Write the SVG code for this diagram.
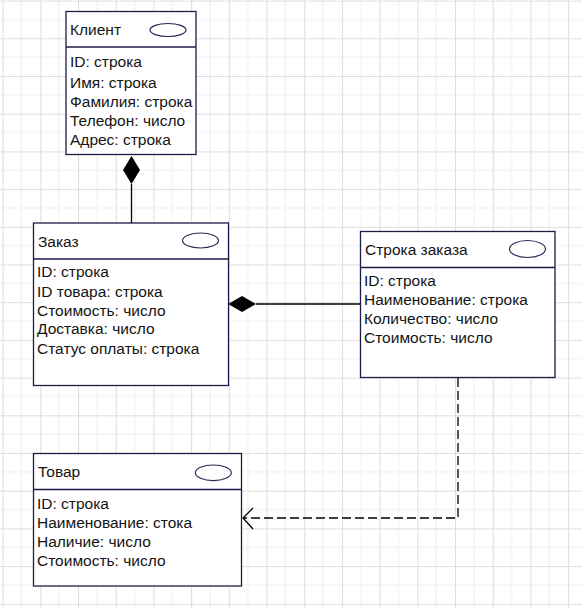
<svg xmlns="http://www.w3.org/2000/svg" width="582" height="608" viewBox="0 0 582 608">
<style>
.box{fill:#fff;stroke:#1c1c48;stroke-width:1.3}
.div{stroke:#1c1c48;stroke-width:1.3}
.ell{fill:#fff;stroke:#2a2a55;stroke-width:1.2}
.t{font-family:"Liberation Sans",Arial,sans-serif;font-size:15.5px;fill:#141414}
.line{stroke:#000;stroke-width:1.3;fill:none}
</style>
<defs>
<pattern id="grid" patternUnits="userSpaceOnUse" x="2.6" y="0.6" width="37.7" height="37.7">
<path d="M18.85 0V37.7M0 18.85H37.7" stroke="#f0f0f0" stroke-width="1.2" fill="none"/>
<path d="M0.5 0V37.7M0 0.5H37.7" stroke="#dedede" stroke-width="1.2" fill="none"/>
</pattern>
</defs>
<rect width="582" height="608" fill="#fff"/>
<rect width="582" height="608" fill="url(#grid)"/>
<g id="connectors">
<line class="line" x1="131.5" y1="184" x2="131.5" y2="223"/>
<polygon points="131.5,156 140,170 131.5,184 123,170" fill="#000"/>
<line class="line" x1="256" y1="304" x2="360" y2="304"/>
<polygon points="228,304 242,296 256,304 242,312" fill="#000"/>
<polyline class="line" points="458,378 458,518 243,518" stroke-dasharray="9,4"/>
<polyline class="line" points="253,508 243,518 253,529"/>
</g>
<g id="client">
<rect class="box" x="66" y="11.5" width="130" height="143"/>
<line class="div" x1="66" y1="47" x2="196" y2="47"/>
<ellipse class="ell" cx="168" cy="30" rx="18" ry="6.5"/>
<text class="t" x="70" y="35">Клиент</text>
<text class="t" x="70" y="67">ID: строка</text>
<text class="t" x="70" y="88">Имя: строка</text>
<text class="t" x="70" y="107">Фамилия: строка</text>
<text class="t" x="70" y="126">Телефон: число</text>
<text class="t" x="70" y="145">Адрес: строка</text>
</g>
<g id="order">
<rect class="box" x="33.5" y="223" width="195" height="162.5"/>
<line class="div" x1="33.5" y1="259" x2="228.5" y2="259"/>
<ellipse class="ell" cx="200.5" cy="240.5" rx="18" ry="7.5"/>
<text class="t" x="38" y="247">Заказ</text>
<text class="t" x="37" y="277">ID: строка</text>
<text class="t" x="37" y="297">ID товара: строка</text>
<text class="t" x="37" y="316">Стоимость: число</text>
<text class="t" x="37" y="334">Доставка: число</text>
<text class="t" x="37" y="354">Статус оплаты: строка</text>
</g>
<g id="order-line">
<rect class="box" x="360.5" y="231.5" width="194.5" height="146"/>
<line class="div" x1="360.5" y1="267.5" x2="555" y2="267.5"/>
<ellipse class="ell" cx="527.5" cy="249" rx="18" ry="8.5"/>
<text class="t" x="365" y="255">Строка заказа</text>
<text class="t" x="364" y="286">ID: строка</text>
<text class="t" x="364" y="305">Наименование: строка</text>
<text class="t" x="364" y="324">Количество: число</text>
<text class="t" x="364" y="343">Стоимость: число</text>
</g>
<g id="product">
<rect class="box" x="33.5" y="453.5" width="208" height="132.5"/>
<line class="div" x1="33.5" y1="489.5" x2="241.5" y2="489.5"/>
<ellipse class="ell" cx="213.3" cy="472.8" rx="18" ry="7.8"/>
<text class="t" x="38" y="477">Товар</text>
<text class="t" x="37" y="509">ID: строка</text>
<text class="t" x="37" y="528">Наименование: стока</text>
<text class="t" x="37" y="547">Наличие: число</text>
<text class="t" x="37" y="566">Стоимость: число</text>
</g>
</svg>
